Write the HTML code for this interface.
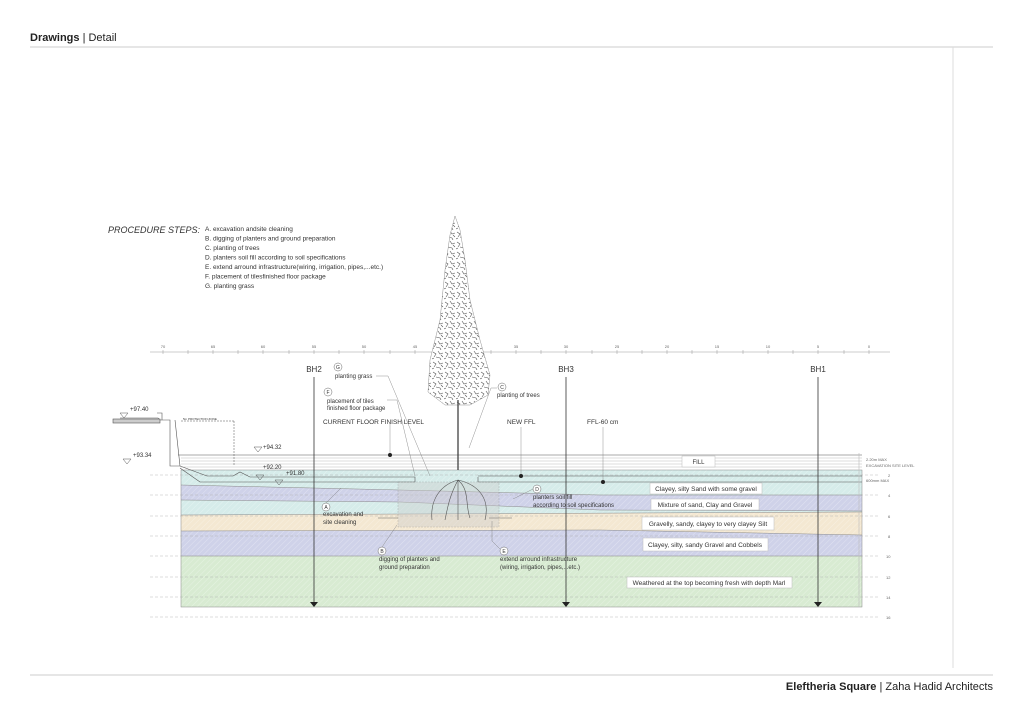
<!DOCTYPE html>
<html><head><meta charset="utf-8"><style>
html,body{margin:0;padding:0;background:#fff;}
svg{display:block;font-family:"Liberation Sans",sans-serif;}
</style></head><body>
<svg width="1024" height="724" viewBox="0 0 1024 724" xmlns="http://www.w3.org/2000/svg">
<defs>
<pattern id="hat" width="4" height="4" patternUnits="userSpaceOnUse" patternTransform="rotate(45)">
<line x1="0" y1="0" x2="0" y2="4" stroke="#ffffff" stroke-width="1" opacity="0.35"/>
</pattern>
<pattern id="leaf" width="12" height="10" patternUnits="userSpaceOnUse">
<rect width="12" height="10" fill="#fff"/>
<path d="M1 2 l3 2 l-2 3 M6 1 l2 3 l3 -1 M4 7 l4 1 l1 2 M9 5 l2 2 M0 9 l2 -1" stroke="#555" stroke-width="0.6" fill="none"/>
</pattern>
</defs>
<rect width="1024" height="724" fill="#fff"/>
<!-- header/footer -->
<text x="30" y="41" font-size="11" fill="#222"><tspan font-weight="bold">Drawings</tspan> | Detail</text>
<line x1="30" y1="47" x2="993" y2="47" stroke="#ccc"/>
<line x1="953" y1="47" x2="953" y2="668" stroke="#ddd"/>
<line x1="30" y1="675" x2="993" y2="675" stroke="#ccc"/>
<text x="993" y="690" font-size="11" fill="#222" text-anchor="end"><tspan font-weight="bold">Eleftheria Square</tspan> | Zaha Hadid Architects</text>

<!-- procedure -->
<text x="108" y="233" font-size="9" font-style="italic" fill="#333">PROCEDURE STEPS:</text>
<g font-size="6.5" fill="#333">
<text x="205" y="231">A.  excavation andsite cleaning</text>
<text x="205" y="240.5">B.  digging of planters and ground preparation</text>
<text x="205" y="250">C.  planting of trees</text>
<text x="205" y="259.5">D. planters soil fill according to soil specifications</text>
<text x="205" y="269">E. extend arround infrastructure(wiring, irrigation, pipes,...etc.)</text>
<text x="205" y="278.5">F. placement of tilesfinished floor package</text>
<text x="205" y="288">G. planting grass</text>
</g>

<!-- ruler -->
<line x1="150" y1="352" x2="890" y2="352" stroke="#999" stroke-width="0.6"/>
<g font-size="4" fill="#666" text-anchor="middle">
<text x="163" y="348">70</text><text x="213" y="348">65</text><text x="263" y="348">60</text><text x="314" y="348">55</text><text x="364" y="348">50</text><text x="415" y="348">45</text><text x="465" y="348">40</text><text x="516" y="348">35</text><text x="566" y="348">30</text><text x="617" y="348">25</text><text x="667" y="348">20</text><text x="717" y="348">15</text><text x="768" y="348">10</text><text x="818" y="348">5</text><text x="869" y="348">0</text>
</g>
<g stroke="#999" stroke-width="0.5">
<path d="M163 350v4M188 350v4M213 350v4M238 350v4M263 350v4M289 350v4M314 350v4M339 350v4M364 350v4M390 350v4M415 350v4M440 350v4M465 350v4M491 350v4M516 350v4M541 350v4M566 350v4M592 350v4M617 350v4M642 350v4M667 350v4M692 350v4M717 350v4M743 350v4M768 350v4M793 350v4M818 350v4M844 350v4M869 350v4"/>
</g>

<!-- soil layers -->
<polygon points="181,470 862,470 862,495 600,495 400,490 181,485" fill="#d6ecea"/>
<polygon points="181,485 400,490 600,495 862,495 862,511 600,510 400,502 181,500" fill="#cfd2e9"/>
<polygon points="181,500 400,502 600,510 862,511 862,512 181,515" fill="#d6ecea"/>
<polygon points="181,515 862,512 862,535 600,530 181,531" fill="#f4e8d2"/>
<polygon points="181,531 600,530 862,535 862,556 181,556" fill="#cfd2e9"/>
<polygon points="181,556 862,556 862,607 181,607" fill="#d8eBd2"/>
<rect x="181" y="470" width="681" height="137" fill="url(#hat)"/>
<g stroke="#888" stroke-width="0.5" fill="none">
<polyline points="181,485 400,490 600,495 862,495"/>
<polyline points="181,500 400,502 600,510 862,511"/>
<line x1="181" y1="515" x2="862" y2="512"/>
<polyline points="181,531 600,530 862,535"/>
<line x1="181" y1="556" x2="862" y2="556"/>
<rect x="181" y="470" width="681" height="137"/>
</g>
<!-- dashed depth lines -->
<g stroke="#aaa" stroke-width="0.4" stroke-dasharray="3,2">
<line x1="150" y1="475" x2="880" y2="475"/><line x1="150" y1="495" x2="880" y2="495"/><line x1="150" y1="516" x2="880" y2="516"/><line x1="150" y1="536" x2="880" y2="536"/><line x1="150" y1="556" x2="880" y2="556"/><line x1="150" y1="577" x2="880" y2="577"/><line x1="150" y1="597" x2="880" y2="597"/><line x1="150" y1="617" x2="880" y2="617"/>
</g>
<g font-size="4" fill="#666">
<text x="888" y="477">2</text><text x="888" y="497">4</text><text x="888" y="518">6</text><text x="888" y="538">8</text><text x="886" y="558">10</text><text x="886" y="579">12</text><text x="886" y="599">14</text><text x="886" y="619">16</text>
<text x="866" y="461">2.20m MAX</text><text x="866" y="467">EXCAVATION SITE LEVEL</text><text x="866" y="482">600mm MAX</text>
</g>

<!-- fill zone -->
<g stroke="#555" fill="none" stroke-width="0.6">
<line x1="178" y1="455" x2="862" y2="455"/>
<line x1="181" y1="458" x2="862" y2="458" stroke="#bbb"/>
<line x1="181" y1="461" x2="862" y2="461" stroke="#bbb"/>
<line x1="181" y1="464" x2="862" y2="464" stroke="#bbb"/>
<line x1="181" y1="467" x2="862" y2="467" stroke="#bbb"/>
<line x1="478" y1="476" x2="862" y2="476"/>
<line x1="478" y1="477" x2="478" y2="482"/>
<line x1="478" y1="482" x2="862" y2="482"/>
<path d="M180 466 L207 476 L233 476 L240 472 L250 477 L415 477 L415 482 L200 482 L180 468"/>
<path d="M120 418 L158 418 L160 420 L162 420 L162 413 L157 413 M162 420 L170 420 L170 466 L180 466 L175 420"/>
<rect x="113" y="419" width="47" height="4" fill="#ccc"/>
<line x1="859" y1="453" x2="859" y2="607" stroke="#bbb"/>
</g>
<rect x="682" y="456" width="33" height="11" fill="#fff" stroke="#bbb" stroke-width="0.5"/>
<text x="698.5" y="464" font-size="6" text-anchor="middle" fill="#333">FILL</text>

<!-- levels -->
<g font-size="6" fill="#333">
<text x="130" y="411">+97.40</text><text x="133" y="457">+93.34</text><text x="263" y="449">+94.32</text><text x="263" y="469">+92.20</text><text x="286" y="475">+91.80</text>
<text x="183" y="420" font-size="3">5m PROTECTION ZONE</text>
</g>
<g fill="none" stroke="#555" stroke-width="0.5">
<path d="M120 413l4 5l4-5z M123 459l4 5l4-5z M254 447l4 5l4-5z M256 475l4 5l4-5z M275 480l4 5l4-5z"/>
<path d="M181 421h53M234 421v45" stroke-dasharray="2,1"/>
</g>

<!-- planter box -->
<rect x="398" y="482" width="101" height="45" fill="#ccc" opacity="0.4" stroke="#666" stroke-width="0.5" stroke-dasharray="2,1"/>
<line x1="378" y1="518" x2="398" y2="518" stroke="#666" stroke-width="0.5"/>
<line x1="489" y1="518" x2="512" y2="518" stroke="#666" stroke-width="0.5"/>

<!-- tree -->
<path d="M455 216 L460 230 L465 260 L470 300 L480 340 L490 375 L488 395 L470 405 L445 405 L428 392 L430 360 L440 320 L445 270 L450 235 Z" fill="url(#leaf)" stroke="#777" stroke-width="0.4"/>
<line x1="458" y1="400" x2="458" y2="470" stroke="#333" stroke-width="1.2"/>
<path d="M458 480 C440 485 430 500 432 520 M458 480 C450 495 448 505 445 520 M458 480 C470 490 465 505 470 518 M458 480 C480 485 490 500 485 520 M458 480 v40" stroke="#555" stroke-width="0.6" fill="none"/>

<!-- BH lines -->
<g font-size="8" fill="#333" text-anchor="middle">
<text x="314" y="372">BH2</text><text x="566" y="372">BH3</text><text x="818" y="372">BH1</text>
</g>
<g stroke="#333" stroke-width="0.8">
<line x1="314" y1="377" x2="314" y2="602"/><line x1="566" y1="377" x2="566" y2="602"/><line x1="818" y1="377" x2="818" y2="602"/>
</g>
<g fill="#222"><path d="M310 602h8l-4 5z M562 602h8l-4 5z M814 602h8l-4 5z"/></g>

<!-- annotations -->
<g font-size="6" fill="#333">
<text x="335" y="378">planting grass</text>
<text x="327" y="403">placement of tiles</text><text x="327" y="410">finished floor package</text>
<text x="323" y="424" font-size="6.5">CURRENT FLOOR FINISH LEVEL</text>
<text x="497" y="397">planting of trees</text>
<text x="507" y="424" font-size="6.5">NEW FFL</text>
<text x="587" y="424" font-size="6.5">FFL-60 cm</text>
<text x="323" y="516">excavation and</text><text x="323" y="524">site cleaning</text>
<text x="379" y="561">digging of planters and</text><text x="379" y="569">ground preparation</text>
<text x="533" y="499">planters soil fill</text><text x="533" y="507">according to soil specifications</text>
<text x="500" y="561">extend arround infrastructure</text><text x="500" y="569">(wiring, irrigation, pipes,...etc.)</text>
</g>
<g fill="#fff" stroke="#666" stroke-width="0.5">
<circle cx="338" cy="367" r="4"/><circle cx="328" cy="392" r="4"/><circle cx="502" cy="387" r="4"/><circle cx="326" cy="507" r="4"/><circle cx="382" cy="551" r="4"/><circle cx="537" cy="489" r="4"/><circle cx="504" cy="551" r="4"/>
</g>
<g font-size="5" fill="#333" text-anchor="middle">
<text x="338" y="369">G</text><text x="328" y="394">F</text><text x="502" y="389">C</text><text x="326" y="509">A</text><text x="382" y="553">B</text><text x="537" y="491">D</text><text x="504" y="553">E</text>
</g>
<g stroke="#777" stroke-width="0.4" fill="none">
<path d="M376 376h12l42 100"/>
<path d="M387 400h10l18 76"/>
<path d="M497 388h-6l-22 60"/>
<path d="M390 424v30"/><path d="M521 427v49"/><path d="M603 427v55"/>
<path d="M326 503l15-15"/><path d="M382 547l15-22"/><path d="M500 549l-8-8v-20"/><path d="M533 489l-20 10"/>
</g>
<g fill="#222"><circle cx="390" cy="455" r="2"/><circle cx="521" cy="476" r="2"/><circle cx="603" cy="482" r="2"/></g>

<!-- layer labels -->
<g fill="#fff" stroke="#bbb" stroke-width="0.5">
<rect x="650" y="483" width="112" height="11"/><rect x="651" y="499" width="108" height="11"/><rect x="642" y="517" width="132" height="13"/><rect x="643" y="538" width="125" height="13"/><rect x="627" y="577" width="165" height="11"/>
</g>
<g font-size="6.5" fill="#333" text-anchor="middle">
<text x="706" y="491">Clayey, silty Sand with some gravel</text>
<text x="705" y="507">Mixture of sand, Clay and Gravel</text>
<text x="708" y="526">Gravelly, sandy, clayey to very clayey Silt</text>
<text x="705" y="547">Clayey, silty, sandy Gravel  and Cobbels</text>
<text x="709" y="585">Weathered at the top becoming fresh with depth Marl</text>
</g>
</svg>
</body></html>
